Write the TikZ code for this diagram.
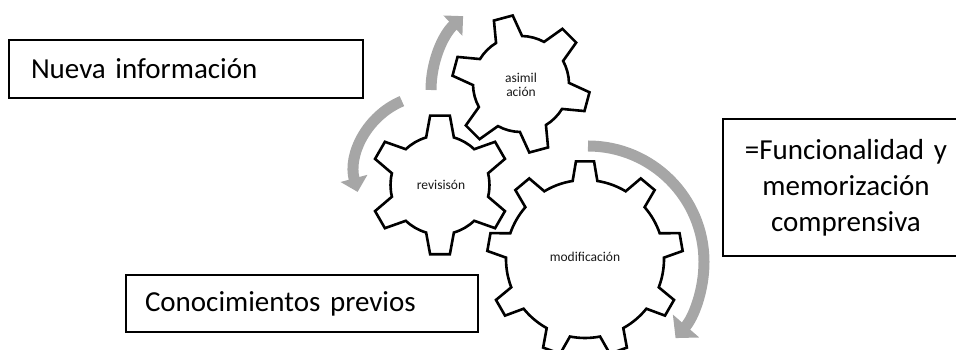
\documentclass[tikz,border=0pt]{standalone}
\usepackage{fontspec}
\setmainfont{Carlito}
\usetikzlibrary{arrows.meta}
\definecolor{arrowgray}{RGB}{166,166,166}
\tikzset{
  gear/.style={draw=black, fill=white, line width=2.6pt, line join=miter},
  gear text/.style={font=\fontsize{13.5}{13.5}\selectfont, align=center, text=black!90},
  label box/.style={draw=black, fill=white, line width=1.2pt, font=\fontsize{29}{36}\selectfont},
  cycle arrow/.style={draw=arrowgray, line width=11pt},
}
% center, teeth, rotation, inner radius, outer radius, base half angle, tip half angle
\newcommand{\gearshape}[7]{%
  \draw[gear, shift={#1}, rotate=#3] (-#6:#4)
    \foreach \k in {1,...,#2}{
      -- ({(\k-1)*360/#2-#7}:#5) -- ({(\k-1)*360/#2+#7}:#5)
      -- ({(\k-1)*360/#2+#6}:#4)
      arc[start angle={(\k-1)*360/#2+#6}, end angle={\k*360/#2-#6}, radius=#4]
    } -- cycle;
}
\begin{document}
\begin{tikzpicture}[x=1pt, y=1pt]
  \clip (0,0) rectangle (956,350);

  % arrows around the gears
  \draw[cycle arrow, -{Triangle[width=27pt, length=14pt]}]
    (532,260) ++(180:101) arc[start angle=180, end angle=133, radius=101];
  \draw[cycle arrow, -{Triangle[width=27pt, length=14pt]}]
    (432,178) ++(113:77) arc[start angle=113, end angle=195, radius=77];
  \draw[cycle arrow, -{Triangle[width=34pt, length=16pt]}]
    (588,88) ++(90:116) arc[start angle=90, end angle=-41, radius=116];

  % gears
  \gearshape{(585,91)}{9}{90}{79}{98}{9}{5.3}
  \gearshape{(440,165)}{6}{90}{49.5}{70}{16.3}{8.1}
  \gearshape{(521,266)}{6}{105}{48}{69}{16.3}{8.1}

  \node[gear text] (asimilacion) at (521,265) {asimil\\ación};
  \node[gear text] (revision) at (441,165) {revisisón};
  \node[gear text] (modificacion) at (585,93) {modificación};

  % boxes
  \node[label box, text width=310pt, inner xsep=22pt, minimum height=58pt, align=left]
    (nueva) at (186,281) {Nueva información};
  \node[label box, text width=314pt, inner xsep=19pt, minimum height=57pt, align=left]
    (previos) at (302,46.5) {Conocimientos previos};
  \node[label box, text width=230pt, inner xsep=8pt, minimum height=137pt, align=center]
    (funcional) at (846,162.5) {=Funcionalidad y\\memorización\\comprensiva};
\end{tikzpicture}
\end{document}
